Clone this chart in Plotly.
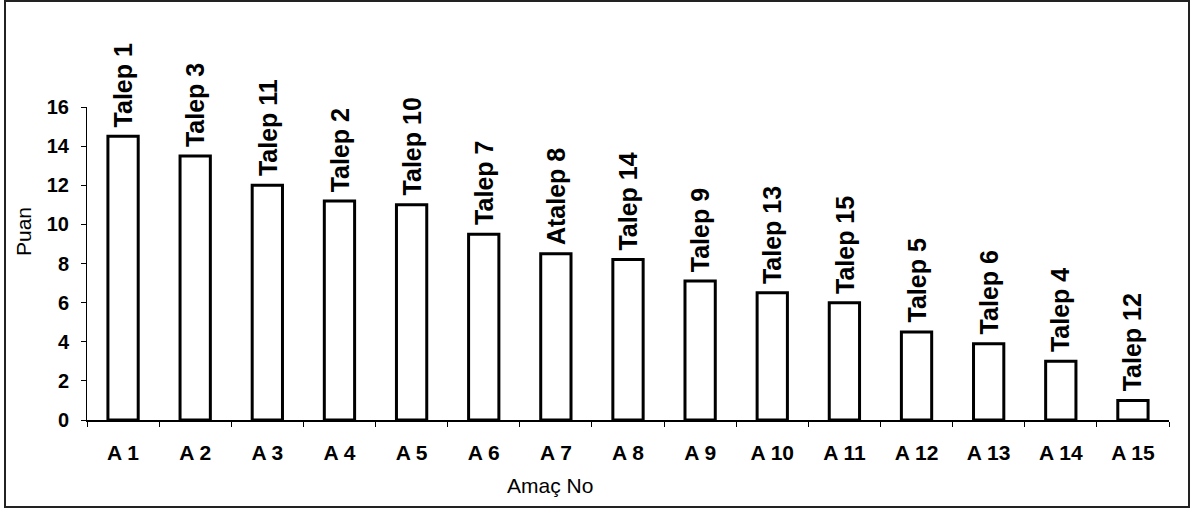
import plotly.graph_objects as go

categories = ["A 1", "A 2", "A 3", "A 4", "A 5", "A 6", "A 7", "A 8",
              "A 9", "A 10", "A 11", "A 12", "A 13", "A 14", "A 15"]
scores = [14.5, 13.5, 12.0, 11.2, 11.0, 9.5, 8.5, 8.2, 7.1, 6.5, 6.0, 4.5, 3.9, 3.0, 1.0]
labels = ["Talep 1", "Talep 3", "Talep 11", "Talep 2", "Talep 10", "Talep 7", "Atalep 8",
          "Talep 14", "Talep 9", "Talep 13", "Talep 15", "Talep 5", "Talep 6", "Talep 4", "Talep 12"]
y_ticks = [0, 2, 4, 6, 8, 10, 12, 14, 16]

W, H = 1191, 509
ML, MR, MT, MB = 87, 22, 107, 89
pw, ph = W - ML - MR, H - MT - MB

def px(x):
    return (x - ML) / pw

def py(y):
    return (H - MB - y) / ph

FONT = "Liberation Sans, Arial, sans-serif"

fig = go.Figure(go.Bar(
    x=categories, y=scores,
    marker=dict(color="white", line=dict(color="black", width=3)),
    width=0.42, hoverinfo="x+y",
))

bar_labels = [
    dict(text="<b>%s</b>" % lab, x=cat, y=val, xref="x", yref="y",
         showarrow=False, textangle=-90, xanchor="center", yanchor="bottom", yshift=7,
         font=dict(family=FONT, size=25, color="black"))
    for cat, val, lab in zip(categories, scores, labels)
]

fig.update_layout(
    width=W, height=H,
    margin=dict(l=ML, r=MR, t=MT, b=MB, pad=0, autoexpand=False),
    paper_bgcolor="white", plot_bgcolor="white",
    showlegend=False,
    font=dict(family=FONT, color="black"),
    xaxis=dict(
        range=[-0.5, 14.5], showgrid=False, showline=True, linecolor="black", linewidth=1.5,
        ticks="outside", tickson="boundaries", ticklen=5, tickcolor="black",
        tickfont=dict(family=FONT, size=21, color="black", weight="bold"), ticklabelstandoff=13,
        automargin=False,
    ),
    yaxis=dict(
        range=[0, 16], tickvals=y_ticks, showgrid=False, zeroline=False,
        showline=True, linecolor="black", linewidth=1,
        ticks="outside", ticklen=5, tickcolor="black",
        tickfont=dict(family=FONT, size=20, color="black", weight="bold"), ticklabelstandoff=8,
        automargin=False,
    ),
    annotations=bar_labels + [
        dict(text="Amaç No", xref="paper", yref="paper", x=px(550), y=py(485),
             showarrow=False, xanchor="center", yanchor="middle",
             font=dict(family=FONT, size=21, color="black")),
        dict(text="Puan", xref="paper", yref="paper", x=px(23), y=py(232),
             showarrow=False, xanchor="center", yanchor="middle", textangle=-90,
             font=dict(family=FONT, size=21, color="black")),
    ],
    shapes=[
        dict(type="rect", xref="paper", yref="paper",
             x0=px(5), x1=px(1189), y0=py(507), y1=py(1),
             line=dict(color="#222", width=2), fillcolor="rgba(0,0,0,0)", layer="below"),
    ],
)

fig.write_html(
    "out.html",
    config={"displayModeBar": False},
    post_script="document.body.style.margin='0';document.body.style.overflow='hidden';",
)
